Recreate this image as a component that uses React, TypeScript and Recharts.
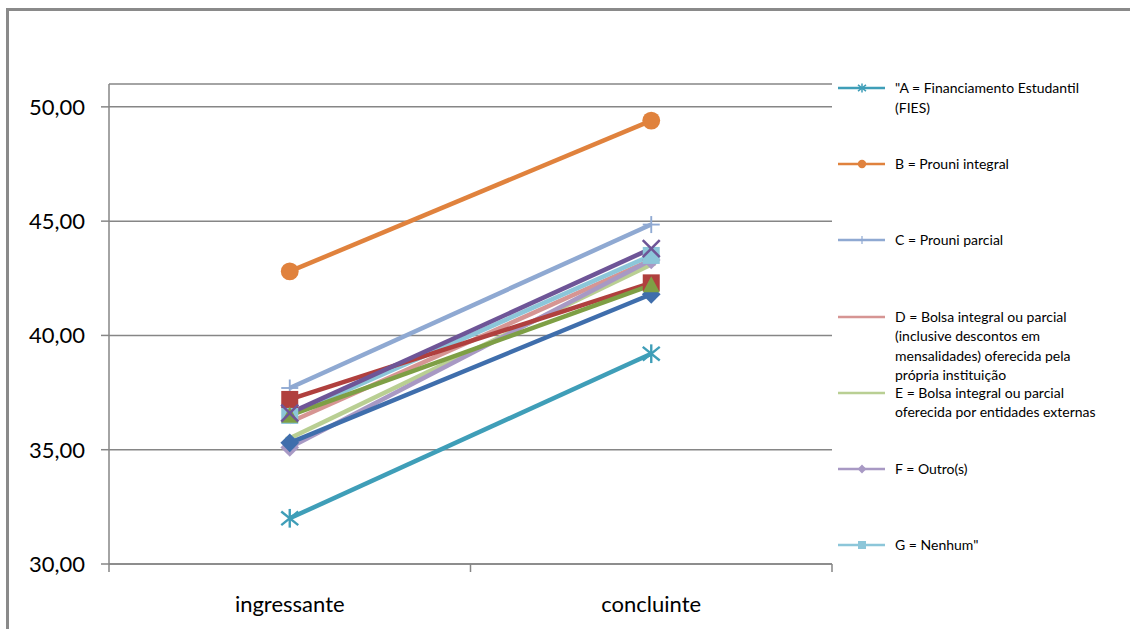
import React from 'react';
import { LineChart, Line, XAxis, YAxis, CartesianGrid, Legend } from 'recharts';

// Categories along the horizontal axis
const categories = ['ingressante', 'concluinte'];

// Mean scores per group, one array per series (ingressante, concluinte)
const serie1 = [35.3, 41.8];
const serie2 = [37.2, 42.3];
const serie3 = [36.5, 42.2];
const serie4 = [36.6, 43.8];
const fies = [32.0, 39.2];
const prouniIntegral = [42.8, 49.4];
const prouniParcial = [37.7, 44.85];
const bolsaInstituicao = [36.2, 43.3];
const bolsaExterna = [35.5, 43.1];
const outros = [35.1, 43.3];
const nenhum = [36.5, 43.5];

const yTicks = [30, 35, 40, 45, 50];

// Legend texts (explicit line breaks as in the legend box)
const legendLabels = [
  '"A = Financiamento Estudantil\n(FIES)',
  'B = Prouni integral',
  'C = Prouni parcial',
  'D = Bolsa integral ou parcial\n(inclusive descontos em\nmensalidades) oferecida pela\nprópria instituição',
  'E = Bolsa integral ou parcial\noferecida por entidades externas',
  'F = Outro(s)',
  'G = Nenhum"',
];

type MarkerKind = 'diamond' | 'square' | 'triangle' | 'x' | 'star' | 'circle' | 'plus' | 'dash';

interface SeriesDef {
  key: string;
  values: number[];
  color: string;
  marker: MarkerKind;
  legend?: number;
}

const seriesDefs: SeriesDef[] = [
  { key: 's5', values: fies, color: '#3F9EB8', marker: 'star', legend: 0 },
  { key: 's6', values: prouniIntegral, color: '#E0823D', marker: 'circle', legend: 1 },
  { key: 's7', values: prouniParcial, color: '#8FA9D2', marker: 'plus', legend: 2 },
  { key: 's8', values: bolsaInstituicao, color: '#D69593', marker: 'dash', legend: 3 },
  { key: 's9', values: bolsaExterna, color: '#B9CF93', marker: 'dash', legend: 4 },
  { key: 's10', values: outros, color: '#A899C4', marker: 'diamond', legend: 5 },
  { key: 's11', values: nenhum, color: '#8CC6D9', marker: 'square', legend: 6 },
  { key: 's1', values: serie1, color: '#3F6EAC', marker: 'diamond' },
  { key: 's2', values: serie2, color: '#B0403E', marker: 'square' },
  { key: 's3', values: serie3, color: '#7E9F45', marker: 'triangle' },
  { key: 's4', values: serie4, color: '#6E5597', marker: 'x' },
];

// Rows: categories sit in the middle of their band on a numeric axis
const data = categories.map((name, i) => {
  const row: Record<string, number | string> = { pos: i + 0.5, name };
  seriesDefs.forEach((s) => {
    row[s.key] = s.values[i];
  });
  return row;
});

const xTicks = [0, 0.5, 1, 1.5, 2];

function MarkerShape({ kind, cx, cy, color, s }: { kind: MarkerKind; cx: number; cy: number; color: string; s: number }) {
  switch (kind) {
    case 'diamond':
      return <polygon points={`${cx},${cy - s * 1.1} ${cx + s * 1.1},${cy} ${cx},${cy + s * 1.1} ${cx - s * 1.1},${cy}`} fill={color} />;
    case 'square':
      return <rect x={cx - s} y={cy - s} width={2 * s} height={2 * s} fill={color} />;
    case 'triangle':
      return <polygon points={`${cx},${cy - s * 1.05} ${cx + s},${cy + s * 0.85} ${cx - s},${cy + s * 0.85}`} fill={color} />;
    case 'x':
      return (
        <g stroke={color} strokeWidth={Math.max(1.5, s * 0.3)}>
          <line x1={cx - s} y1={cy - s} x2={cx + s} y2={cy + s} />
          <line x1={cx - s} y1={cy + s} x2={cx + s} y2={cy - s} />
        </g>
      );
    case 'star':
      return (
        <g stroke={color} strokeWidth={Math.max(1.5, s * 0.28)}>
          <line x1={cx - s} y1={cy - s * 0.8} x2={cx + s} y2={cy + s * 0.8} />
          <line x1={cx - s} y1={cy + s * 0.8} x2={cx + s} y2={cy - s * 0.8} />
          <line x1={cx} y1={cy - s * 1.1} x2={cx} y2={cy + s * 1.1} />
        </g>
      );
    case 'circle':
      return <circle cx={cx} cy={cy} r={s * 1.05} fill={color} />;
    case 'plus':
      return (
        <g stroke={color} strokeWidth={Math.max(1.2, s * 0.22)}>
          <line x1={cx - s} y1={cy} x2={cx + s} y2={cy} />
          <line x1={cx} y1={cy - s} x2={cx} y2={cy + s} />
        </g>
      );
    case 'dash':
    default:
      return <line x1={cx - s * 0.5} y1={cy} x2={cx + s * 0.5} y2={cy} stroke={color} strokeWidth={Math.max(2, s * 0.35)} />;
  }
}

const makeDot = (s: SeriesDef) => (props: any) => {
  const { cx, cy, index } = props;
  return (
    <g key={`${s.key}-${index}`}>
      <MarkerShape kind={s.marker} cx={cx} cy={cy} color={s.color} s={8.5} />
    </g>
  );
};

const XTick = (props: any) => {
  const { x, y, payload } = props;
  const v = payload.value as number;
  if (Number.isInteger(v)) {
    return <line x1={x} y1={y} x2={x} y2={y + 8} stroke="#868686" strokeWidth={1.5} />;
  }
  const label = categories[Math.floor(v)];
  return (
    <text x={x} y={y + 48} textAnchor="middle" fontFamily="Lato, 'Open Sans', sans-serif" fontSize={22} fill="#000">
      {label}
    </text>
  );
};

const legendItems = seriesDefs
  .filter((s) => s.legend !== undefined)
  .sort((a, b) => (a.legend as number) - (b.legend as number));

const renderLegend = () => (
  <div style={{ position: 'relative', width: 280, height: 480 }}>
    {legendItems.map((s, i) => (
      <div
        key={s.key}
        style={{ position: 'absolute', left: 0, top: i * 76.2, display: 'flex', alignItems: 'flex-start' }}
      >
        <svg width={48} height={20} style={{ flex: 'none' }}>
          <line x1={0} y1={10} x2={47} y2={10} stroke={s.color} strokeWidth={2.5} />
          <MarkerShape kind={s.marker} cx={24} cy={10} color={s.color} s={4} />
        </svg>
        <div
          style={{
            marginLeft: 9,
            whiteSpace: 'pre',
            fontFamily: "Lato, 'Open Sans', sans-serif",
            fontSize: 14,
            lineHeight: '19.5px',
            color: '#000',
          }}
        >
          {legendLabels[s.legend as number]}
        </div>
      </div>
    ))}
  </div>
);

export default function App() {
  return (
    <div style={{ position: 'fixed', left: 0, top: 0, width: 1130, height: 629, background: '#fff', overflow: 'hidden' }}>
      <div
        style={{
          position: 'absolute',
          left: 6,
          top: 8,
          width: 1140,
          height: 640,
          borderTop: '3px solid #8a8a8a',
          borderLeft: '3px solid #8a8a8a',
          boxSizing: 'border-box',
        }}
      />
      <LineChart
        width={1120}
        height={629}
        data={data}
        margin={{ top: 84, right: 288, bottom: 0, left: 0 }}
        style={{ position: 'absolute', left: 0, top: 0 }}
      >
        <CartesianGrid vertical={false} stroke="#868686" strokeWidth={1.5} />
        <XAxis
          dataKey="pos"
          type="number"
          domain={[0, 2]}
          ticks={xTicks}
          interval={0}
          height={65}
          axisLine={{ stroke: '#868686', strokeWidth: 1.5 }}
          tickLine={false}
          tickSize={0}
          tickMargin={0}
          tick={<XTick />}
        />
        <YAxis
          type="number"
          domain={[30, 51]}
          ticks={yTicks}
          interval={0}
          width={109}
          axisLine={{ stroke: '#868686', strokeWidth: 1.5 }}
          tickLine={{ stroke: '#868686', strokeWidth: 1.5 }}
          tickSize={8}
          tickMargin={16}
          tickFormatter={(v: number) => v.toFixed(2).replace('.', ',')}
          tick={{ fontFamily: "Lato, 'Open Sans', sans-serif", fontSize: 22, fill: '#000' }}
        />
        <Legend
          layout="vertical"
          align="center"
          verticalAlign="middle"
          content={renderLegend}
          wrapperStyle={{ position: 'absolute', left: 838, top: 78, width: 280 }}
        />
        {seriesDefs.map((s) => (
          <Line
            key={s.key}
            dataKey={s.key}
            type="linear"
            stroke={s.color}
            strokeWidth={4.5}
            dot={makeDot(s)}
            activeDot={false}
            isAnimationActive={false}
          />
        ))}
      </LineChart>
    </div>
  );
}
